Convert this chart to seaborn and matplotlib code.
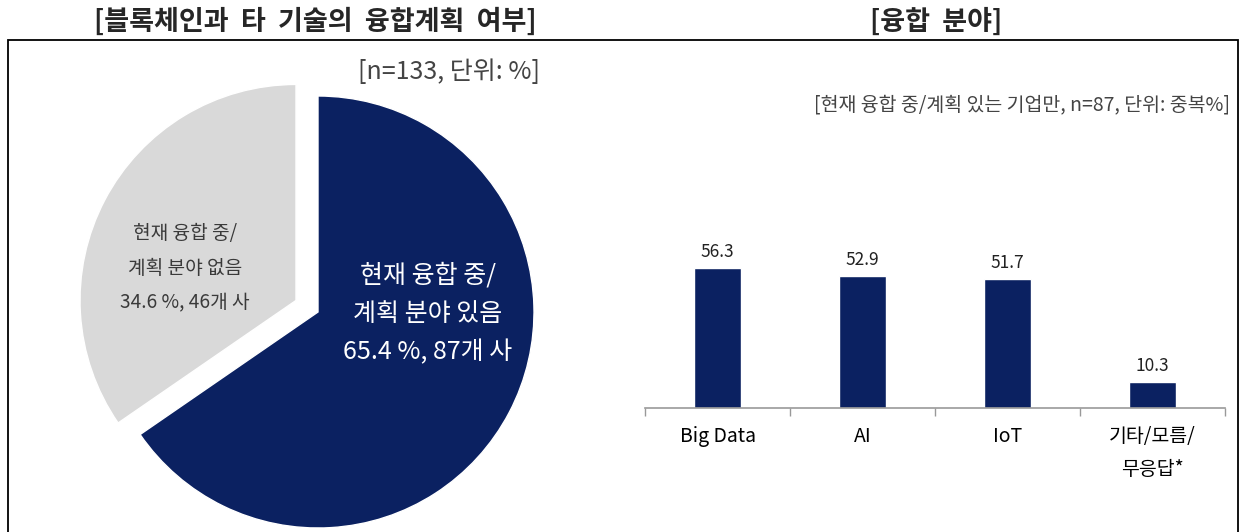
import numpy as np
import pandas as pd
import seaborn as sns
import matplotlib.pyplot as plt
from matplotlib.patches import Rectangle

sns.set_theme(style='white')
plt.rcParams['font.family'] = ['Noto Sans CJK KR', 'DejaVu Sans']

# data
pie_labels = ['현재 융합 중/\n계획 분야 있음', '현재 융합 중/\n계획 분야 없음']
pie_pct = [65.4, 34.6]
pie_cnt = [87, 46]

fields = ['Big Data', 'AI', 'IoT', '기타/모름/\n무응답*']
field_pct = [56.3, 52.9, 51.7, 10.3]

navy = '#0B2161'
light = '#D9D9D9'

W, H = 1244, 532
fig = plt.figure(figsize=(W / 100, H / 100), dpi=100)

# outer box
fig.add_artist(Rectangle((8 / W, -0.2), (1238 - 8) / W, 0.2 + (H - 40) / H,
                         transform=fig.transFigure, fill=False,
                         edgecolor='black', linewidth=1.3))

fig.text(315 / W, 1 - 22 / H, '[블록체인과  타  기술의  융합계획  여부]',
         ha='center', va='center', fontsize=19.5, fontweight='bold')
fig.text(936 / W, 1 - 22 / H, '[융합  분야]',
         ha='center', va='center', fontsize=19.5, fontweight='bold')

# ---- pie ----
side = 560
cx, cy = 318, 312
R = 216
ax1 = fig.add_axes([(cx - side / 2) / W, (H - cy - side / 2) / H, side / W, side / H])
wedges, _ = ax1.pie(pie_pct, colors=[navy, light], startangle=90, counterclock=False,
                    explode=[0, 0.115], radius=1)
lim = side / 2 / R
ax1.set_xlim(-lim, lim)
ax1.set_ylim(-lim, lim)
ax1.axis('off')

ax1.text(110 / R, -2 / R, f'{pie_labels[0]}\n{pie_pct[0]} %, {pie_cnt[0]}개 사',
         ha='center', va='center', color='white', fontsize=18, linespacing=1.62)
ax1.text(-133 / R, 44 / R, f'{pie_labels[1]}\n{pie_pct[1]} %, {pie_cnt[1]}개 사',
         ha='center', va='center', color='#3a3a3a', fontsize=13.8, linespacing=1.85)

fig.text(540 / W, 1 - 72 / H, '[n=133, 단위: %]', ha='right', va='center',
         fontsize=18, color='#444444')

# ---- bars ----
base = 408
ymax = 70
pxu = 140 / 56.3
ax2 = fig.add_axes([645 / W, (H - base) / H, 580 / W, ymax * pxu / H])
df = pd.DataFrame({'field': fields, 'pct': field_pct})
sns.barplot(data=df, x='field', y='pct', color=navy, saturation=1, width=0.32, ax=ax2)
for p, v in zip(ax2.patches, field_pct):
    ax2.text(p.get_x() + p.get_width() / 2, v + 3.0, f'{v}', ha='center', va='bottom',
             fontsize=12.5, color='#222222')
ax2.set_xlim(-0.5, len(fields) - 0.5)
ax2.set_ylim(0, ymax)
ax2.set_xlabel(None)
ax2.set_ylabel(None)
ax2.set_yticks([])
sns.despine(ax=ax2, left=True)
ax2.spines['bottom'].set_color('#999999')
ax2.spines['bottom'].set_linewidth(1.2)
ax2.set_xticks(np.arange(-0.5, len(fields)), minor=True)
ax2.tick_params(axis='x', which='minor', length=6, width=1, color='#999999', direction='out', bottom=True)
ax2.tick_params(axis='x', which='major', length=0, pad=13, labelsize=14, labelcolor='black')
for t in ax2.get_xticklabels():
    t.set_linespacing(1.75)
ax2.patch.set_alpha(0)

fig.text(1230 / W, 1 - 105 / H, '[현재 융합 중/계획 있는 기업만, n=87, 단위: 중복%]',
         ha='right', va='center', fontsize=14, color='#444444')

fig.savefig('out.png', dpi=100)
